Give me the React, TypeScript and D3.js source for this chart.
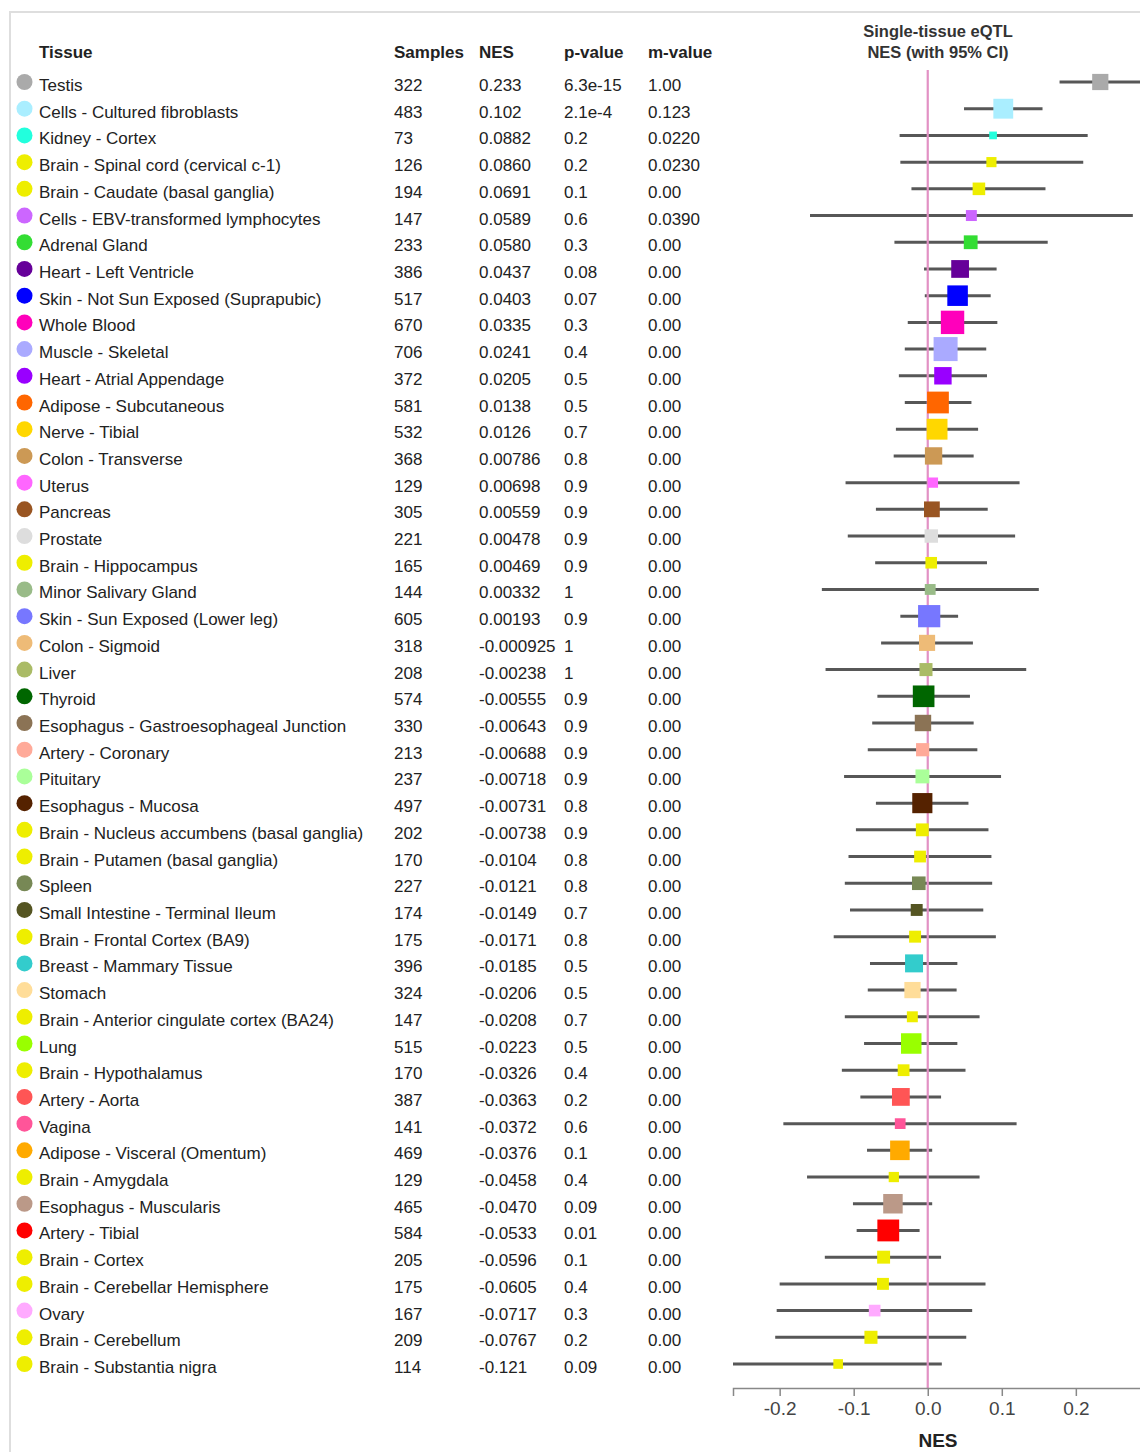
import React, { useEffect, useRef } from 'react';
import * as d3 from 'd3';

// rows, top to bottom
const tissues = [
  'Testis', 'Cells - Cultured fibroblasts', 'Kidney - Cortex', 'Brain - Spinal cord (cervical c-1)',
  'Brain - Caudate (basal ganglia)', 'Cells - EBV-transformed lymphocytes', 'Adrenal Gland',
  'Heart - Left Ventricle', 'Skin - Not Sun Exposed (Suprapubic)', 'Whole Blood', 'Muscle - Skeletal',
  'Heart - Atrial Appendage', 'Adipose - Subcutaneous', 'Nerve - Tibial', 'Colon - Transverse', 'Uterus',
  'Pancreas', 'Prostate', 'Brain - Hippocampus', 'Minor Salivary Gland', 'Skin - Sun Exposed (Lower leg)',
  'Colon - Sigmoid', 'Liver', 'Thyroid', 'Esophagus - Gastroesophageal Junction', 'Artery - Coronary',
  'Pituitary', 'Esophagus - Mucosa', 'Brain - Nucleus accumbens (basal ganglia)',
  'Brain - Putamen (basal ganglia)', 'Spleen', 'Small Intestine - Terminal Ileum',
  'Brain - Frontal Cortex (BA9)', 'Breast - Mammary Tissue', 'Stomach',
  'Brain - Anterior cingulate cortex (BA24)', 'Lung', 'Brain - Hypothalamus', 'Artery - Aorta', 'Vagina',
  'Adipose - Visceral (Omentum)', 'Brain - Amygdala', 'Esophagus - Muscularis', 'Artery - Tibial',
  'Brain - Cortex', 'Brain - Cerebellar Hemisphere', 'Ovary', 'Brain - Cerebellum', 'Brain - Substantia nigra',
];

const samples = [
  322, 483, 73, 126, 194, 147, 233, 386, 517, 670, 706, 372, 581, 532, 368, 129, 305, 221, 165, 144, 605,
  318, 208, 574, 330, 213, 237, 497, 202, 170, 227, 174, 175, 396, 324, 147, 515, 170, 387, 141, 469, 129,
  465, 584, 205, 175, 167, 209, 114,
];

const nes = [
  0.233, 0.102, 0.0882, 0.086, 0.0691, 0.0589, 0.058, 0.0437, 0.0403, 0.0335, 0.0241, 0.0205, 0.0138,
  0.0126, 0.00786, 0.00698, 0.00559, 0.00478, 0.00469, 0.00332, 0.00193, -0.000925, -0.00238, -0.00555,
  -0.00643, -0.00688, -0.00718, -0.00731, -0.00738, -0.0104, -0.0121, -0.0149, -0.0171, -0.0185, -0.0206,
  -0.0208, -0.0223, -0.0326, -0.0363, -0.0372, -0.0376, -0.0458, -0.047, -0.0533, -0.0596, -0.0605,
  -0.0717, -0.0767, -0.121,
];

const pValues = [
  '6.3e-15', '2.1e-4', '0.2', '0.2', '0.1', '0.6', '0.3', '0.08', '0.07', '0.3', '0.4', '0.5', '0.5', '0.7',
  '0.8', '0.9', '0.9', '0.9', '0.9', '1', '0.9', '1', '1', '0.9', '0.9', '0.9', '0.9', '0.8', '0.9', '0.8',
  '0.8', '0.7', '0.8', '0.5', '0.5', '0.7', '0.5', '0.4', '0.2', '0.6', '0.1', '0.4', '0.09', '0.01', '0.1',
  '0.4', '0.3', '0.2', '0.09',
];

const mValues = [
  '1.00', '0.123', '0.0220', '0.0230', '0.00', '0.0390', ...Array(43).fill('0.00'),
];

// 95% CI ends
const ciLow = [
  0.178, 0.049, -0.038, -0.037, -0.022, -0.159, -0.045, -0.005, -0.004, -0.027, -0.031, -0.039, -0.031,
  -0.043, -0.046, -0.111, -0.070, -0.108, -0.071, -0.143, -0.037, -0.063, -0.138, -0.068, -0.075, -0.081,
  -0.113, -0.070, -0.097, -0.107, -0.112, -0.105, -0.127, -0.078, -0.081, -0.112, -0.086, -0.116, -0.091,
  -0.195, -0.082, -0.163, -0.101, -0.096, -0.139, -0.200, -0.204, -0.206, -0.263,
];

const ciHigh = [
  0.288, 0.155, 0.216, 0.210, 0.159, 0.277, 0.162, 0.093, 0.085, 0.094, 0.079, 0.080, 0.059, 0.068, 0.062,
  0.124, 0.081, 0.118, 0.080, 0.150, 0.041, 0.061, 0.133, 0.057, 0.062, 0.067, 0.099, 0.055, 0.082, 0.086,
  0.087, 0.075, 0.092, 0.040, 0.039, 0.070, 0.040, 0.051, 0.018, 0.120, 0.006, 0.070, 0.006, -0.011, 0.018,
  0.078, 0.060, 0.052, 0.019,
];

const tissueColors = [
  '#AAAAAA', '#AAEEFF', '#22FFDD', '#EEEE00', '#EEEE00', '#CC66FF', '#33DD33', '#660099', '#0000FF',
  '#FF00BB', '#AAAAFF', '#9900FF', '#FF6600', '#FFD700', '#CC9955', '#FF66FF', '#995522', '#DDDDDD',
  '#EEEE00', '#99BB88', '#7777FF', '#EEBB77', '#AABB66', '#006600', '#8B7355', '#FFAA99', '#AAFF99',
  '#552200', '#EEEE00', '#EEEE00', '#778855', '#555522', '#EEEE00', '#33CCCC', '#FFDD99', '#EEEE00',
  '#99FF00', '#EEEE00', '#FF5555', '#FF5599', '#FFAA00', '#EEEE00', '#BB9988', '#FF0000', '#EEEE00',
  '#EEEE00', '#FFAAFF', '#EEEE00', '#EEEE00',
];

const columns = [
  { title: 'Tissue', x: 39 },
  { title: 'Samples', x: 394 },
  { title: 'NES', x: 479 },
  { title: 'p-value', x: 564 },
  { title: 'm-value', x: 648 },
];

const xTicks = [-0.2, -0.1, 0, 0.1, 0.2];

const FONT = '"Liberation Sans", Arial, sans-serif';

const x = d3.scaleLinear()
  .domain([d3.min(ciLow) as number, d3.max(ciHigh) as number])
  .range([733, 1141]);

const y = d3.scalePoint<string>().domain(tissues).range([82, 1364]);

const size = d3.scaleSqrt().domain([0, d3.max(samples) as number]).range([0, 24]);

const nesFormat = d3.formatLocale({
  decimal: '.', thousands: ',', grouping: [3], currency: ['', ''], minus: '-',
}).format('.3r');

const AXIS_Y = 1388;

const App = () => {
  const axisRef = useRef(null);

  useEffect(() => {
    if (!axisRef.current) return;
    const g = d3.select(axisRef.current);
    g.selectAll('*').remove();

    g.call(
      d3.axisBottom(x)
        .tickValues(xTicks)
        .tickFormat(d => (d as number).toFixed(1))
        .tickSize(8)
        .tickPadding(6)
    );

    g.select('.domain').attr('stroke', '#888').attr('stroke-width', 1.5);
    g.selectAll('.tick line').attr('stroke', '#888').attr('stroke-width', 1.5);
    g.selectAll('.tick text')
      .attr('fill', '#444')
      .attr('font-size', 19)
      .attr('font-family', FONT);
  }, []);

  return (
    <svg
      width={1140}
      height={1452}
      style={{ position: 'absolute', left: 0, top: 0, display: 'block', background: '#fff' }}
      fontFamily={FONT}
    >
      {/* panel frame */}
      <rect x={10} y={12} width={2000} height={2000} fill="none" stroke="#dedede" strokeWidth={2} />

      {/* table header */}
      {columns.map(c => (
        <text key={c.title} x={c.x} y={57.5} fontSize={17} fontWeight="bold" fill="#222">
          {c.title}
        </text>
      ))}

      <text x={938} y={36.5} textAnchor="middle" fontSize={16.5} fontWeight="bold" fill="#333">
        Single-tissue eQTL
      </text>
      <text x={938} y={58} textAnchor="middle" fontSize={16.5} fontWeight="bold" fill="#333">
        NES (with 95% CI)
      </text>

      {/* table rows */}
      {tissues.map((t, i) => {
        const cy = y(t) as number;
        return (
          <g key={t} fontSize={17} fill="#222">
            <circle cx={24.5} cy={cy} r={8} fill={tissueColors[i]} />
            <text x={39} y={cy + 9}>{t}</text>
            <text x={394} y={cy + 9}>{samples[i]}</text>
            <text x={479} y={cy + 9}>{nesFormat(nes[i])}</text>
            <text x={564} y={cy + 9}>{pValues[i]}</text>
            <text x={648} y={cy + 9}>{mValues[i]}</text>
          </g>
        );
      })}

      {/* confidence intervals */}
      {tissues.map((t, i) => (
        <line
          key={t}
          x1={x(ciLow[i])}
          x2={x(ciHigh[i])}
          y1={y(t)}
          y2={y(t)}
          stroke="#575757"
          strokeWidth={3}
        />
      ))}

      {/* zero line */}
      <line x1={x(0)} x2={x(0)} y1={70} y2={AXIS_Y} stroke="#e291c4" strokeWidth={2.2} />

      {/* point estimates */}
      {tissues.map((t, i) => {
        const s = size(samples[i]);
        return (
          <rect
            key={t}
            x={x(nes[i]) - s / 2}
            y={(y(t) as number) - s / 2}
            width={s}
            height={s}
            fill={tissueColors[i]}
          />
        );
      })}

      <g ref={axisRef} transform={`translate(0,${AXIS_Y})`} />

      <text x={938} y={1447} textAnchor="middle" fontSize={19} fontWeight="bold" fill="#222">
        NES
      </text>
    </svg>
  );
};

export default App;
